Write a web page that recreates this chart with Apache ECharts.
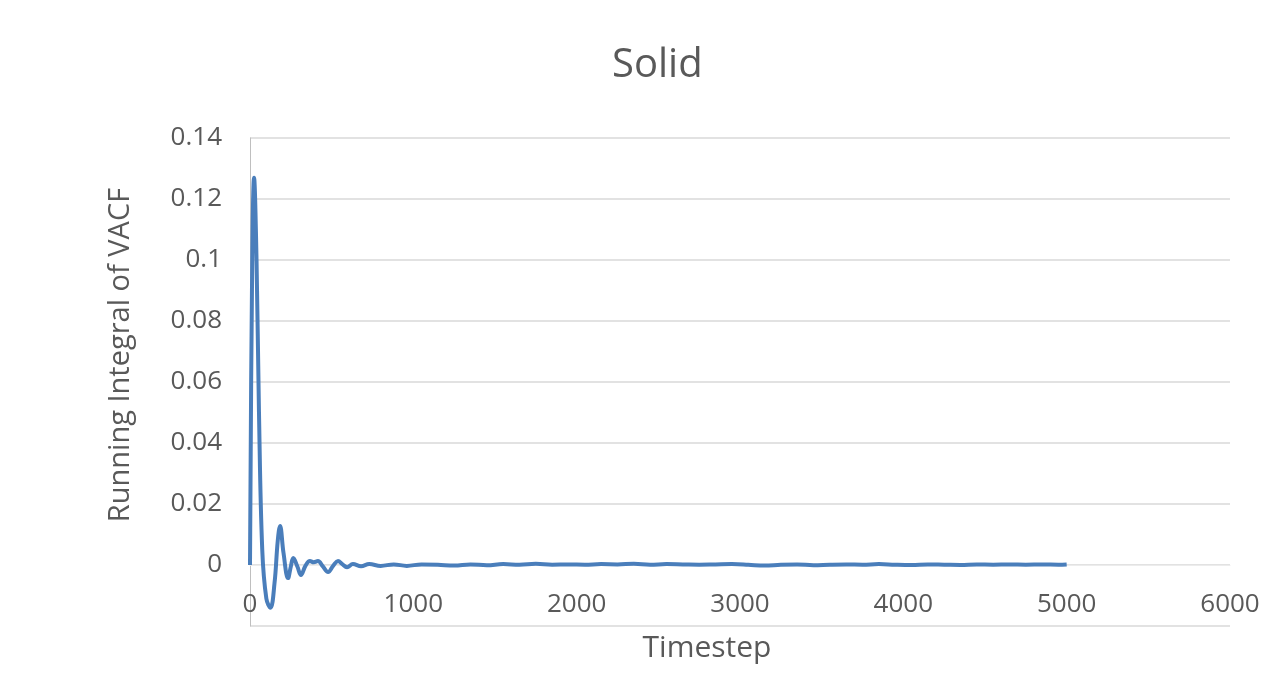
<!DOCTYPE html>
<html>
<head>
<meta charset="utf-8">
<script src="https://cdn.jsdelivr.net/npm/echarts@6/dist/echarts.min.js"></script>
<style>
  html, body { margin: 0; padding: 0; background: #fff; }
  #chart { width: 1288px; height: 683px; }
</style>
</head>
<body>
<div id="chart"></div>
<script>
/* Running integral of VACF, solid phase */
const timesteps = [0, 12, 25, 40, 55, 75, 100, 125, 150, 170, 184, 205, 233, 250, 265, 290, 312, 340, 367, 390, 416, 445, 478, 510, 539, 565, 594, 630, 680, 730,
  800, 880, 960, 1050, 1150, 1250, 1350, 1450, 1550, 1650, 1750, 1850, 1950, 2050, 2150, 2250, 2350, 2450, 2550, 2650,
  2750, 2850, 2950, 3050, 3150, 3250, 3350, 3450, 3550, 3650, 3750, 3850, 3950, 4050, 4150, 4250, 4350, 4450, 4550, 4650,
  4750, 4850, 4950, 5000];
const integral = [0, 0.09, 0.127, 0.1, 0.05, 0.005, -0.011, -0.014, -0.006, 0.008, 0.0128, 0.004, -0.0043, -0.0005, 0.0023, -0.0005, -0.0033, -0.0002, 0.0013, 0.0009, 0.0013, -0.0004, -0.0023, -0.0002, 0.0013, 0.0003, -0.0007, 0.0003, -0.0004, 0.0003,
  -0.0003, 0.0002, -0.0003, 0.0002, 0.0001, -0.0002, 0.0002, -0.0001, 0.0003, 0.0001, 0.0004, 0.0001, 0.0002, 0.0001, 0.0003, 0.0002, 0.0004, 0.0001, 0.0003, 0.0002,
  0.0001, 0.0002, 0.0003, 0.0001, -0.0002, 0.0001, 0.0002, -0.0001, 0.0001, 0.0002, 0.0001, 0.0003, 0.0001, 0, 0.0002, 0.0001, 0, 0.0002, 0.0001, 0.0002,
  0.0001, 0.0002, 0.0001, 0.0002];
const xTicks = [0, 6000, 1000];
const yTicks = [-0.02, 0.14, 0.02];

const chart = echarts.init(document.getElementById('chart'));
const grey = '#595959';
const font = '"Open Sans", "Noto Sans", sans-serif';

chart.setOption({
  animation: false,
  title: {
    text: 'Solid', left: 607, top: 41,
    textStyle: { color: grey, fontSize: 40, fontWeight: 'normal', fontFamily: font }
  },
  grid: { left: 250, right: 58, top: 138, bottom: 57 },
  xAxis: {
    type: 'value', min: xTicks[0], max: xTicks[1], interval: xTicks[2],
    name: 'Timestep', nameLocation: 'middle', nameGap: 7,
    nameTextStyle: { color: grey, fontSize: 30, fontFamily: font, padding: [0, 66, 0, 0] },
    axisLine: { lineStyle: { color: '#ececec' } },
    axisTick: { show: false },
    axisLabel: { color: grey, fontSize: 26, fontFamily: font, margin: -34, formatter: (v) => String(v) },
    splitLine: { show: false }
  },
  yAxis: {
    type: 'value', min: yTicks[0], max: yTicks[1], interval: yTicks[2],
    name: 'Running Integral of VACF', nameLocation: 'middle', nameGap: 115,
    nameTextStyle: { color: grey, fontSize: 29, fontFamily: font, padding: [0, 0, 0, 54] },
    axisLine: { show: true, lineStyle: { color: '#bfbfbf' } },
    axisTick: { show: false },
    axisLabel: {
      color: grey, fontSize: 26, fontFamily: font, margin: 28,
      formatter: (v) => (v < 0 ? '' : String(+v.toFixed(2)))
    },
    splitLine: { lineStyle: { color: '#d9d9d9', width: 1.5 } }
  },
  series: [{
    type: 'line', smooth: 0.4, showSymbol: false,
    data: timesteps.map((t, i) => [t, integral[i]]),
    lineStyle: { color: '#4a7ebb', width: 4 }
  }]
});
</script>
</body>
</html>
